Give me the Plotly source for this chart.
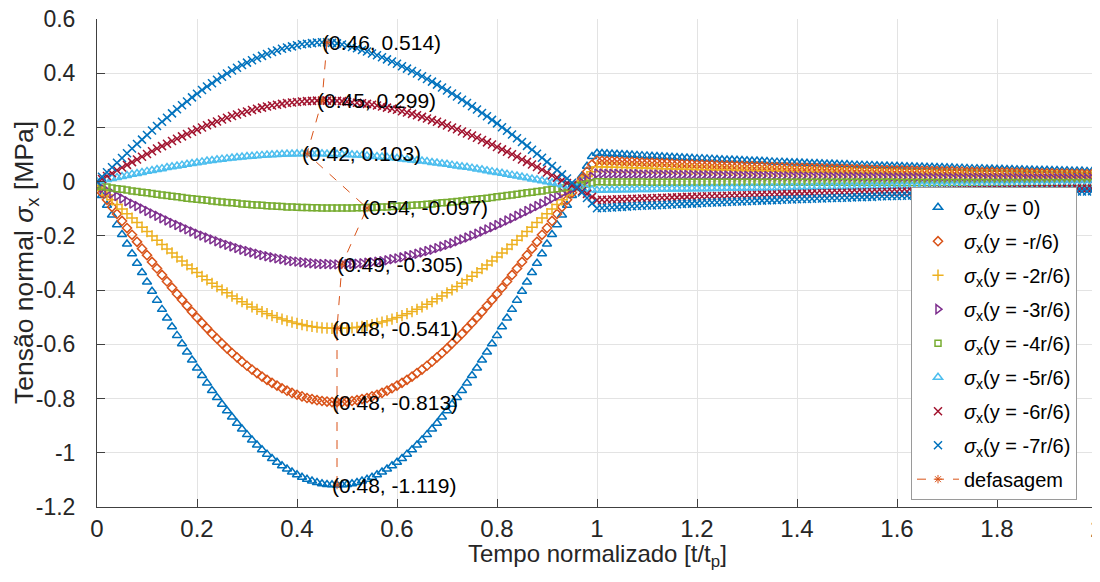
import plotly.graph_objects as go

# ---------------- data ----------------
t = [round(0.01 * i, 2) for i in range(201)]

# phase 1 (t = 0.00 ... 0.99) and phase 2 (t = 1.00 ... 2.00)
s0_a = [-0.015, -0.051, -0.087, -0.123, -0.159, -0.195, -0.230, -0.266, -0.301, -0.335, -0.370, -0.404, -0.437, -0.471, -0.503, -0.535, -0.567, -0.598, -0.628, -0.658, -0.687, -0.715, -0.743, -0.770, -0.796, -0.821, -0.845, -0.868, -0.891, -0.912, -0.933, -0.953, -0.971, -0.989, -1.005, -1.021, -1.035, -1.048, -1.060, -1.071, -1.081, -1.090, -1.098, -1.104, -1.110, -1.114, -1.117, -1.118, -1.119,
        -1.118, -1.117, -1.114, -1.110, -1.104, -1.098, -1.090, -1.081, -1.071, -1.060, -1.048, -1.035, -1.021, -1.005, -0.989, -0.971, -0.953, -0.933, -0.912, -0.891, -0.868, -0.845, -0.821, -0.796, -0.770, -0.743, -0.715, -0.687, -0.658, -0.628, -0.598, -0.567, -0.535, -0.503, -0.471, -0.437, -0.404, -0.370, -0.335, -0.301, -0.266, -0.230, -0.195, -0.159, -0.123, -0.087, -0.051, -0.015,
        0.021, 0.057, 0.093]
s0_b = [0.105, 0.104, 0.103, 0.102, 0.101, 0.100, 0.099, 0.098, 0.097, 0.096,
        0.095, 0.094, 0.093, 0.092, 0.091, 0.090, 0.089, 0.088, 0.087, 0.086,
        0.085, 0.085, 0.084, 0.083, 0.082, 0.081, 0.080, 0.080, 0.079, 0.078,
        0.077, 0.076, 0.076, 0.075, 0.074, 0.073, 0.072, 0.072, 0.071, 0.070,
        0.070, 0.069, 0.068, 0.067, 0.067, 0.066, 0.065, 0.065, 0.064, 0.063,
        0.063, 0.062, 0.061, 0.061, 0.060, 0.060, 0.059, 0.058, 0.058, 0.057,
        0.057, 0.056, 0.055, 0.055, 0.054, 0.054, 0.053, 0.053, 0.052, 0.052,
        0.051, 0.051, 0.050, 0.050, 0.049, 0.048, 0.048, 0.048, 0.047, 0.047,
        0.046, 0.046, 0.045, 0.045, 0.044, 0.044, 0.043, 0.043, 0.042, 0.042,
        0.042, 0.041, 0.041, 0.040, 0.040, 0.039, 0.039, 0.039, 0.038, 0.038,
        0.037]

s1_a = [-0.015, -0.041, -0.067, -0.093, -0.119, -0.145, -0.171, -0.196, -0.222, -0.247, -0.271, -0.296, -0.320, -0.344, -0.368, -0.391, -0.414, -0.436, -0.458, -0.480, -0.501, -0.521, -0.541, -0.561, -0.579, -0.597, -0.615, -0.632, -0.648, -0.664, -0.679, -0.693, -0.706, -0.719, -0.731, -0.742, -0.752, -0.762, -0.771, -0.779, -0.786, -0.792, -0.798, -0.802, -0.806, -0.809, -0.811, -0.813, -0.813,
        -0.813, -0.811, -0.809, -0.806, -0.802, -0.798, -0.792, -0.786, -0.779, -0.771, -0.762, -0.752, -0.742, -0.731, -0.719, -0.706, -0.693, -0.679, -0.664, -0.648, -0.632, -0.615, -0.597, -0.579, -0.561, -0.541, -0.521, -0.501, -0.480, -0.458, -0.436, -0.414, -0.391, -0.368, -0.344, -0.320, -0.296, -0.271, -0.247, -0.222, -0.196, -0.171, -0.145, -0.119, -0.093, -0.067, -0.041, -0.015,
        0.011, 0.037, 0.063]
s1_b = [0.078, 0.077, 0.076, 0.076, 0.075, 0.074, 0.073, 0.073, 0.072, 0.071,
        0.070, 0.070, 0.069, 0.068, 0.068, 0.067, 0.066, 0.065, 0.065, 0.064,
        0.063, 0.063, 0.062, 0.062, 0.061, 0.060, 0.060, 0.059, 0.058, 0.058,
        0.057, 0.057, 0.056, 0.056, 0.055, 0.054, 0.054, 0.053, 0.053, 0.052,
        0.052, 0.051, 0.051, 0.050, 0.050, 0.049, 0.049, 0.048, 0.048, 0.047,
        0.047, 0.046, 0.046, 0.045, 0.045, 0.044, 0.044, 0.043, 0.043, 0.042,
        0.042, 0.042, 0.041, 0.041, 0.040, 0.040, 0.040, 0.039, 0.039, 0.038,
        0.038, 0.038, 0.037, 0.037, 0.036, 0.036, 0.036, 0.035, 0.035, 0.035,
        0.034, 0.034, 0.034, 0.033, 0.033, 0.033, 0.032, 0.032, 0.032, 0.031,
        0.031, 0.031, 0.030, 0.030, 0.030, 0.029, 0.029, 0.029, 0.028, 0.028,
        0.028]

s2_a = [-0.015, -0.032, -0.049, -0.067, -0.084, -0.101, -0.118, -0.134, -0.151, -0.168, -0.184, -0.200, -0.216, -0.232, -0.248, -0.263, -0.278, -0.293, -0.307, -0.321, -0.335, -0.349, -0.362, -0.375, -0.387, -0.399, -0.410, -0.422, -0.432, -0.443, -0.452, -0.462, -0.471, -0.479, -0.487, -0.494, -0.501, -0.507, -0.513, -0.518, -0.523, -0.527, -0.531, -0.534, -0.537, -0.539, -0.540, -0.541, -0.541,
        -0.541, -0.540, -0.539, -0.537, -0.534, -0.531, -0.527, -0.523, -0.518, -0.513, -0.507, -0.501, -0.494, -0.487, -0.479, -0.471, -0.462, -0.452, -0.443, -0.432, -0.422, -0.410, -0.399, -0.387, -0.375, -0.362, -0.349, -0.335, -0.321, -0.307, -0.293, -0.278, -0.263, -0.248, -0.232, -0.216, -0.200, -0.184, -0.168, -0.151, -0.134, -0.118, -0.101, -0.084, -0.067, -0.049, -0.032, -0.015,
        0.002, 0.019, 0.037]
s2_b = [0.055, 0.054, 0.054, 0.053, 0.053, 0.052, 0.052, 0.051, 0.051, 0.050,
        0.050, 0.049, 0.049, 0.048, 0.048, 0.047, 0.047, 0.046, 0.046, 0.045,
        0.045, 0.044, 0.044, 0.043, 0.043, 0.043, 0.042, 0.042, 0.041, 0.041,
        0.040, 0.040, 0.040, 0.039, 0.039, 0.038, 0.038, 0.038, 0.037, 0.037,
        0.036, 0.036, 0.036, 0.035, 0.035, 0.035, 0.034, 0.034, 0.034, 0.033,
        0.033, 0.033, 0.032, 0.032, 0.032, 0.031, 0.031, 0.031, 0.030, 0.030,
        0.030, 0.029, 0.029, 0.029, 0.028, 0.028, 0.028, 0.028, 0.027, 0.027,
        0.027, 0.026, 0.026, 0.026, 0.026, 0.025, 0.025, 0.025, 0.025, 0.024,
        0.024, 0.024, 0.024, 0.023, 0.023, 0.023, 0.023, 0.022, 0.022, 0.022,
        0.022, 0.022, 0.021, 0.021, 0.021, 0.021, 0.020, 0.020, 0.020, 0.020,
        0.020]

s3_a = [-0.015, -0.024, -0.034, -0.043, -0.053, -0.062, -0.072, -0.081, -0.090, -0.099, -0.108, -0.117, -0.126, -0.135, -0.143, -0.152, -0.160, -0.168, -0.176, -0.184, -0.192, -0.199, -0.206, -0.213, -0.220, -0.227, -0.233, -0.239, -0.245, -0.251, -0.256, -0.261, -0.266, -0.271, -0.275, -0.279, -0.283, -0.286, -0.290, -0.293, -0.295, -0.297, -0.299, -0.301, -0.303, -0.304, -0.304, -0.305, -0.305,
        -0.305, -0.304, -0.304, -0.303, -0.301, -0.299, -0.297, -0.295, -0.293, -0.290, -0.286, -0.283, -0.279, -0.275, -0.271, -0.266, -0.261, -0.256, -0.251, -0.245, -0.239, -0.233, -0.227, -0.220, -0.213, -0.206, -0.199, -0.192, -0.184, -0.176, -0.168, -0.160, -0.152, -0.143, -0.135, -0.126, -0.117, -0.108, -0.099, -0.090, -0.081, -0.072, -0.062, -0.053, -0.043, -0.034, -0.024, -0.015,
        -0.005, 0.006, 0.018]
s3_b = [0.030, 0.030, 0.029, 0.029, 0.029, 0.028, 0.028, 0.028, 0.028, 0.027,
        0.027, 0.027, 0.027, 0.026, 0.026, 0.026, 0.025, 0.025, 0.025, 0.025,
        0.024, 0.024, 0.024, 0.024, 0.023, 0.023, 0.023, 0.023, 0.022, 0.022,
        0.022, 0.022, 0.022, 0.021, 0.021, 0.021, 0.021, 0.020, 0.020, 0.020,
        0.020, 0.020, 0.019, 0.019, 0.019, 0.019, 0.019, 0.018, 0.018, 0.018,
        0.018, 0.018, 0.018, 0.017, 0.017, 0.017, 0.017, 0.017, 0.017, 0.016,
        0.016, 0.016, 0.016, 0.016, 0.016, 0.015, 0.015, 0.015, 0.015, 0.015,
        0.015, 0.014, 0.014, 0.014, 0.014, 0.014, 0.014, 0.014, 0.013, 0.013,
        0.013, 0.013, 0.013, 0.013, 0.013, 0.013, 0.012, 0.012, 0.012, 0.012,
        0.012, 0.012, 0.012, 0.012, 0.011, 0.011, 0.011, 0.011, 0.011, 0.011,
        0.011]

s4_a = [-0.015, -0.018, -0.020, -0.023, -0.026, -0.028, -0.031, -0.034, -0.036, -0.039, -0.041, -0.044, -0.046, -0.049, -0.051, -0.054, -0.056, -0.058, -0.061, -0.063, -0.065, -0.067, -0.069, -0.071, -0.073, -0.075, -0.077, -0.078, -0.080, -0.082, -0.083, -0.085, -0.086, -0.087, -0.089, -0.090, -0.091, -0.092, -0.093, -0.093, -0.094, -0.095, -0.095, -0.096, -0.096, -0.097, -0.097, -0.097, -0.097,
        -0.097, -0.097, -0.097, -0.096, -0.096, -0.095, -0.095, -0.094, -0.093, -0.093, -0.092, -0.091, -0.090, -0.089, -0.087, -0.086, -0.085, -0.083, -0.082, -0.080, -0.078, -0.077, -0.075, -0.073, -0.071, -0.069, -0.067, -0.065, -0.063, -0.061, -0.058, -0.056, -0.054, -0.051, -0.049, -0.046, -0.044, -0.041, -0.039, -0.036, -0.034, -0.031, -0.028, -0.026, -0.023, -0.020, -0.018, -0.015,
        -0.012, -0.009, -0.005]
s4_b = [0.000, 0.000, -0.001, -0.001, -0.001, -0.001, -0.001, -0.001, -0.001, -0.001,
        -0.002, -0.002, -0.002, -0.002, -0.002, -0.002, -0.002, -0.002, -0.002, -0.002,
        -0.002, -0.002, -0.002, -0.002, -0.002, -0.002, -0.002, -0.002, -0.002, -0.002,
        -0.002, -0.002, -0.002, -0.002, -0.002, -0.002, -0.002, -0.002, -0.002, -0.002,
        -0.002, -0.002, -0.002, -0.002, -0.002, -0.002, -0.002, -0.002, -0.002, -0.002,
        -0.002, -0.002, -0.002, -0.002, -0.002, -0.002, -0.002, -0.002, -0.002, -0.002,
        -0.003, -0.003, -0.003, -0.003, -0.003, -0.003, -0.003, -0.003, -0.003, -0.003,
        -0.003, -0.003, -0.003, -0.003, -0.003, -0.003, -0.003, -0.003, -0.003, -0.003,
        -0.003, -0.003, -0.003, -0.003, -0.003, -0.003, -0.003, -0.003, -0.003, -0.003,
        -0.003, -0.003, -0.003, -0.003, -0.003, -0.003, -0.003, -0.003, -0.003, -0.003,
        -0.003]

s5_a = [0.000, 0.004, 0.008, 0.012, 0.015, 0.019, 0.023, 0.027, 0.030, 0.034, 0.038, 0.041, 0.045, 0.048, 0.052, 0.055, 0.058, 0.061, 0.064, 0.067, 0.070, 0.073, 0.076, 0.078, 0.081, 0.083, 0.085, 0.087, 0.089, 0.091, 0.093, 0.094, 0.096, 0.097, 0.098, 0.099, 0.100, 0.101, 0.102, 0.102, 0.103, 0.103, 0.103,
        0.103, 0.103, 0.103, 0.102, 0.102, 0.101, 0.100, 0.100, 0.099, 0.098, 0.097, 0.095, 0.094, 0.093, 0.091, 0.090, 0.088, 0.086, 0.084, 0.082, 0.080, 0.078, 0.076, 0.074, 0.071, 0.069, 0.066, 0.064, 0.061, 0.058, 0.055, 0.053, 0.050, 0.047, 0.044, 0.040, 0.037, 0.034, 0.031, 0.027, 0.024, 0.021, 0.017, 0.014, 0.010, 0.007, 0.003, 0.000, -0.004, -0.007, -0.011, -0.015, -0.018, -0.022,
        -0.025, -0.028, -0.030]
s5_b = [-0.032, -0.032, -0.031, -0.031, -0.031, -0.030, -0.030, -0.030, -0.029, -0.029,
        -0.029, -0.029, -0.028, -0.028, -0.028, -0.027, -0.027, -0.027, -0.027, -0.026,
        -0.026, -0.026, -0.026, -0.025, -0.025, -0.025, -0.024, -0.024, -0.024, -0.024,
        -0.023, -0.023, -0.023, -0.023, -0.023, -0.022, -0.022, -0.022, -0.022, -0.021,
        -0.021, -0.021, -0.021, -0.021, -0.020, -0.020, -0.020, -0.020, -0.020, -0.019,
        -0.019, -0.019, -0.019, -0.019, -0.018, -0.018, -0.018, -0.018, -0.018, -0.017,
        -0.017, -0.017, -0.017, -0.017, -0.017, -0.016, -0.016, -0.016, -0.016, -0.016,
        -0.016, -0.015, -0.015, -0.015, -0.015, -0.015, -0.015, -0.014, -0.014, -0.014,
        -0.014, -0.014, -0.014, -0.014, -0.013, -0.013, -0.013, -0.013, -0.013, -0.013,
        -0.013, -0.013, -0.012, -0.012, -0.012, -0.012, -0.012, -0.012, -0.012, -0.012,
        -0.011]

s6_a = [0.000, 0.010, 0.021, 0.031, 0.042, 0.052, 0.062, 0.072, 0.082, 0.092, 0.102, 0.112, 0.122, 0.131, 0.140, 0.150, 0.158, 0.167, 0.176, 0.184, 0.192, 0.200, 0.208, 0.215, 0.222, 0.229, 0.236, 0.242, 0.248, 0.254, 0.259, 0.264, 0.269, 0.273, 0.277, 0.281, 0.284, 0.287, 0.290, 0.292, 0.294, 0.296, 0.297, 0.298, 0.299, 0.299,
        0.299, 0.298, 0.298, 0.297, 0.295, 0.293, 0.291, 0.289, 0.287, 0.284, 0.281, 0.277, 0.273, 0.269, 0.265, 0.260, 0.255, 0.250, 0.245, 0.239, 0.233, 0.227, 0.221, 0.214, 0.207, 0.200, 0.193, 0.185, 0.178, 0.170, 0.162, 0.154, 0.145, 0.137, 0.128, 0.119, 0.110, 0.101, 0.092, 0.082, 0.073, 0.063, 0.054, 0.044, 0.034, 0.024, 0.015, 0.005, -0.005, -0.015, -0.025,
        -0.035, -0.045, -0.056]
s6_b = [-0.068, -0.067, -0.067, -0.066, -0.065, -0.065, -0.064, -0.063, -0.063, -0.062,
        -0.061, -0.061, -0.060, -0.059, -0.059, -0.058, -0.058, -0.057, -0.056, -0.056,
        -0.055, -0.055, -0.054, -0.054, -0.053, -0.053, -0.052, -0.051, -0.051, -0.050,
        -0.050, -0.049, -0.049, -0.048, -0.048, -0.047, -0.047, -0.046, -0.046, -0.046,
        -0.045, -0.045, -0.044, -0.044, -0.043, -0.043, -0.042, -0.042, -0.041, -0.041,
        -0.041, -0.040, -0.040, -0.039, -0.039, -0.039, -0.038, -0.038, -0.037, -0.037,
        -0.037, -0.036, -0.036, -0.036, -0.035, -0.035, -0.034, -0.034, -0.034, -0.033,
        -0.033, -0.033, -0.032, -0.032, -0.032, -0.031, -0.031, -0.031, -0.030, -0.030,
        -0.030, -0.030, -0.029, -0.029, -0.029, -0.028, -0.028, -0.028, -0.027, -0.027,
        -0.027, -0.027, -0.026, -0.026, -0.026, -0.026, -0.025, -0.025, -0.025, -0.025,
        -0.024]

s7_a = [0.000, 0.018, 0.035, 0.053, 0.070, 0.087, 0.105, 0.122, 0.139, 0.155, 0.172, 0.189, 0.205, 0.221, 0.236, 0.252, 0.267, 0.282, 0.296, 0.311, 0.324, 0.338, 0.351, 0.363, 0.376, 0.387, 0.399, 0.410, 0.420, 0.430, 0.439, 0.448, 0.456, 0.464, 0.471, 0.478, 0.484, 0.490, 0.495, 0.499, 0.503, 0.507, 0.509, 0.511, 0.513, 0.514, 0.514,
        0.512, 0.510, 0.506, 0.502, 0.497, 0.492, 0.486, 0.480, 0.473, 0.466, 0.459, 0.451, 0.443, 0.435, 0.426, 0.417, 0.408, 0.399, 0.389, 0.379, 0.369, 0.358, 0.347, 0.336, 0.325, 0.314, 0.302, 0.290, 0.278, 0.266, 0.253, 0.241, 0.228, 0.215, 0.201, 0.188, 0.174, 0.160, 0.146, 0.132, 0.118, 0.103, 0.088, 0.073, 0.058, 0.043, 0.027, 0.012, -0.004, -0.020,
        -0.040, -0.060, -0.080]
s7_b = [-0.098, -0.097, -0.096, -0.095, -0.094, -0.093, -0.092, -0.091, -0.090, -0.089,
        -0.088, -0.088, -0.087, -0.086, -0.085, -0.084, -0.083, -0.082, -0.081, -0.081,
        -0.080, -0.079, -0.078, -0.077, -0.077, -0.076, -0.075, -0.074, -0.073, -0.073,
        -0.072, -0.071, -0.070, -0.070, -0.069, -0.068, -0.068, -0.067, -0.066, -0.066,
        -0.065, -0.064, -0.064, -0.063, -0.062, -0.062, -0.061, -0.060, -0.060, -0.059,
        -0.059, -0.058, -0.057, -0.057, -0.056, -0.056, -0.055, -0.054, -0.054, -0.053,
        -0.053, -0.052, -0.052, -0.051, -0.051, -0.050, -0.050, -0.049, -0.049, -0.048,
        -0.048, -0.047, -0.047, -0.046, -0.046, -0.045, -0.045, -0.044, -0.044, -0.043,
        -0.043, -0.043, -0.042, -0.042, -0.041, -0.041, -0.040, -0.040, -0.040, -0.039,
        -0.039, -0.038, -0.038, -0.038, -0.037, -0.037, -0.036, -0.036, -0.036, -0.035,
        -0.035]

series_names = ["(y = 0)", "(y = -r/6)", "(y = -2r/6)", "(y = -3r/6)",
                "(y = -4r/6)", "(y = -5r/6)", "(y = -6r/6)", "(y = -7r/6)"]
series_values = [s0_a + s0_b, s1_a + s1_b, s2_a + s2_b, s3_a + s3_b,
                 s4_a + s4_b, s5_a + s5_b, s6_a + s6_b, s7_a + s7_b]

# peak (phase shift) points
peak_t = [0.48, 0.48, 0.48, 0.49, 0.54, 0.42, 0.45, 0.46]
peak_v = [-1.119, -0.813, -0.541, -0.305, -0.097, 0.103, 0.299, 0.514]

x_ticks = [0, 0.2, 0.4, 0.6, 0.8, 1, 1.2, 1.4, 1.6, 1.8, 2]
x_ticktext = ["0", "0.2", "0.4", "0.6", "0.8", "1", "1.2", "1.4", "1.6", "1.8", "2"]
y_ticks = [-1.2, -1.0, -0.8, -0.6, -0.4, -0.2, 0, 0.2, 0.4, 0.6]
y_ticktext = ["-1.2", "-1", "-0.8", "-0.6", "-0.4", "-0.2", "0", "0.2", "0.4", "0.6"]

for v in series_values:
    assert len(v) == len(t), len(v)

# ---------------- style ----------------
colors = ["#0072BD", "#D95319", "#EDB120", "#7E2F8E", "#77AC30", "#4DBEEE", "#A2142F", "#0072BD"]
symbols = ["triangle-up-open", "diamond-open", "cross-thin-open", "triangle-right-open",
           "square-open", "triangle-up-open", "x-thin-open", "x-thin-open"]
sizes = [8, 7, 8, 8, 6, 8, 8, 8]
FONT = "Liberation Sans, Arial, Helvetica, sans-serif"
NARROW = "Liberation Sans Narrow, Arial Narrow, Liberation Sans, sans-serif"

fig = go.Figure()
for i, (name, vals, c, sym, sz) in enumerate(zip(series_names, series_values, colors, symbols, sizes)):
    fig.add_trace(go.Scatter(
        x=t, y=vals, mode="markers",
        name="<i>σ</i><sub>x</sub>" + name, legendgroup="g%d" % i,
        marker=dict(symbol=sym, size=sz, color=c, line=dict(color=c, width=1.5)),
    ))

fig.add_trace(go.Scatter(
    x=peak_t, y=peak_v, mode="lines+markers", name="defasagem", legendgroup="g8",
    line=dict(color="#D95319", width=1, dash="dash"),
    marker=dict(symbol="asterisk-open", size=7, color="#D95319",
                line=dict(color="#D95319", width=1)),
))

for pt, pv in zip(peak_t, peak_v):
    fig.add_annotation(x=pt, y=pv, xref="x", yref="y",
                       text="(%.2f, %.3f)" % (pt, pv), showarrow=False,
                       xanchor="left", yanchor="middle", xshift=-7,
                       font=dict(family=FONT, size=21, color="#000000"))

fig.add_annotation(xref="paper", yref="paper", x=-0.071, y=0.5,
                   text="Tensão normal <i>σ</i><sub>x</sub> [MPa]", textangle=-90,
                   showarrow=False, xanchor="center", yanchor="middle",
                   font=dict(family=FONT, size=26.5, color="#262626"))
fig.add_annotation(xref="paper", yref="paper", x=0.5, y=-0.10,
                   text="Tempo normalizado [t/t<sub>p</sub>]",
                   showarrow=False, xanchor="center", yanchor="middle",
                   font=dict(family=FONT, size=24, color="#262626"))

axis_common = dict(showgrid=True, gridcolor="#e3e3e3", gridwidth=1,
                   showline=True, linecolor="#404040", linewidth=1,
                   ticks="inside", ticklen=8, tickcolor="#404040",
                   zeroline=False, mirror=False, automargin=False,
                   ticklabeloverflow="allow")

# the page adds an 8 px body margin, so the figure is 8 px smaller
fig.update_layout(
    width=1092, height=574,
    margin=dict(l=89, r=3, t=11, b=75, autoexpand=False),
    paper_bgcolor="white", plot_bgcolor="white",
    showlegend=True,
    legend=dict(x=0.98, y=0.015, xanchor="right", yanchor="bottom",
                bgcolor="white", bordercolor="#9a9a9a", borderwidth=1,
                tracegroupgap=5, itemwidth=42,
                font=dict(family=FONT, size=20, color="#000000")),
    xaxis=dict(range=[0, 2], tickvals=x_ticks, ticktext=x_ticktext,
               tickfont=dict(family=NARROW, size=24, color="#262626"),
               **axis_common),
    yaxis=dict(range=[-1.2, 0.6], tickvals=y_ticks, ticktext=y_ticktext,
               ticklabelstandoff=16,
               tickfont=dict(family=FONT, size=23, color="#262626"),
               **axis_common),
)

fig.write_html("out.html", config={"displayModeBar": False})
